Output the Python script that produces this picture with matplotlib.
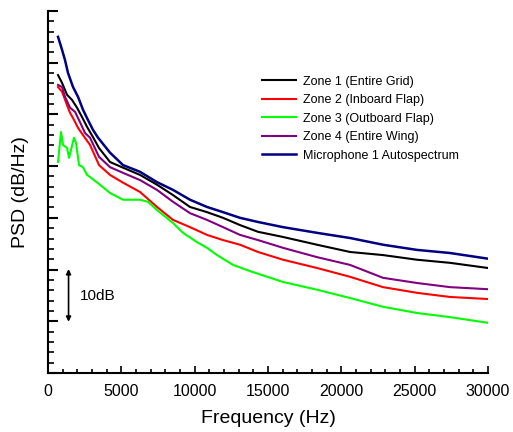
import matplotlib
matplotlib.use("Agg")
import matplotlib.pyplot as plt
from matplotlib.ticker import MultipleLocator, NullFormatter

plt.rcParams['font.family'] = ['Liberation Sans', 'DejaVu Sans']

# values (Hz, relative dB)
mic_f = [682, 955, 1159, 1364, 1705, 2045, 2386, 2727, 3068, 3409, 4227, 5114, 6273,
         7432, 8523, 9682, 10841, 11932, 13091, 14318, 16023, 18341, 20591, 22841,
         25159, 27409, 30000]
mic_db = [65.0, 62.5, 60.5, 58.0, 55.3, 53.4, 50.9, 48.9, 47.0, 45.5, 42.6, 40.2, 38.9,
          36.9, 35.4, 33.5, 32.1, 31.1, 30.0, 29.2, 28.2, 27.1, 26.1, 24.8,
          23.8, 23.2, 22.1]

z1_f = [682, 955, 1295, 1636, 1977, 2318, 2659, 3068, 3477, 4227, 5114, 6273, 7432,
        8523, 9682, 10841, 11932, 13091, 14318, 16023, 18341, 20591, 22841, 25159,
        27409, 30000]
z1_db = [57.6, 56.1, 53.8, 52.8, 51.3, 49.5, 47.6, 45.6, 43.5, 40.8, 39.7, 38.3, 36.4,
         34.4, 32.1, 31.1, 30.0, 28.6, 27.3, 26.3, 24.8, 23.4, 22.8, 21.9,
         21.3, 20.3]

z2_f = [682, 955, 1295, 1500, 1705, 2045, 2386, 2864, 3477, 4227, 5114, 6273, 7432,
        8523, 9682, 10841, 11932, 13091, 14318, 16023, 18341, 20591, 22841, 25159,
        27409, 30000]
z2_db = [55.3, 54.4, 51.8, 50.3, 49.3, 47.4, 46.0, 44.1, 40.2, 38.3, 36.8, 35.0, 32.1,
         29.6, 28.2, 26.7, 25.7, 24.8, 23.4, 21.9, 20.3, 18.6, 16.6, 15.5,
         14.7, 14.3]

z3_f = [682, 886, 1023, 1295, 1432, 1773, 1909, 2114, 2386, 2659, 2864, 3545, 4227,
        5114, 6273, 6818, 7432, 8523, 9205, 10159, 10841, 11523, 12614, 13773, 16023,
        18341, 20591, 22841, 25159, 27409, 30000]
z3_db = [40.8, 46.6, 44.1, 43.5, 41.6, 45.5, 44.5, 40.2, 39.8, 38.3, 37.9, 36.4, 34.8,
         33.5, 33.5, 33.1, 31.5, 29.0, 27.1, 25.3, 24.2, 22.8, 20.9, 19.7, 17.6,
         16.1, 14.5, 12.8, 11.6, 10.8, 9.7]

z4_f = [682, 955, 1159, 1500, 1841, 2182, 2523, 2864, 3477, 4227, 5114, 6273, 7432,
        8523, 9682, 10841, 11932, 13091, 14318, 16023, 18341, 20591, 22841, 25159,
        27409, 30000]
z4_db = [55.7, 55.3, 53.4, 51.3, 50.5, 48.5, 46.4, 45.5, 41.8, 39.8, 38.7, 37.3, 35.4,
         33.1, 30.9, 29.6, 28.2, 26.7, 25.7, 24.2, 22.4, 20.9, 18.4, 17.4,
         16.6, 16.2]

fig = plt.figure(figsize=(5.13, 4.32), dpi=100)
ax = fig.add_axes([0.0936, 0.1366, 0.8577, 0.838])

ax.plot(z1_f, z1_db, color='black', lw=1.5, label='Zone 1 (Entire Grid)')
ax.plot(z2_f, z2_db, color='#ff0000', lw=1.5, label='Zone 2 (Inboard Flap)')
ax.plot(z3_f, z3_db, color='#00ff00', lw=1.5, label='Zone 3 (Outboard Flap)')
ax.plot(z4_f, z4_db, color='#800080', lw=1.5, label='Zone 4 (Entire Wing)')
ax.plot(mic_f, mic_db, color='#000080', lw=1.8, label='Microphone 1 Autospectrum')

ax.set_xlim(0, 30000)
ax.set_ylim(0, 70)
ax.xaxis.set_major_locator(MultipleLocator(5000))
ax.xaxis.set_minor_locator(MultipleLocator(1000))
ax.yaxis.set_major_locator(MultipleLocator(10))
ax.yaxis.set_minor_locator(MultipleLocator(2))
ax.yaxis.set_major_formatter(NullFormatter())

for s in ['top', 'right']:
    ax.spines[s].set_visible(False)
ax.spines['left'].set_linewidth(1.5)
ax.spines['bottom'].set_linewidth(1.5)
ax.tick_params(axis='x', which='major', direction='in', length=5, width=1.2, labelsize=11.5, pad=8)
ax.tick_params(axis='x', which='minor', direction='in', length=3, width=1.2)
ax.tick_params(axis='y', which='major', direction='in', length=7, width=1.5)
ax.tick_params(axis='y', which='minor', direction='in', length=4, width=1.2)

ax.set_xlabel('Frequency (Hz)', fontsize=14, labelpad=8)
ax.set_ylabel('PSD (dB/Hz)', fontsize=14, labelpad=10)

# 10 dB scale bar
ax.annotate('', xy=(1400, 9.9), xytext=(1400, 20.1),
            arrowprops=dict(arrowstyle='<|-|>', color='black', lw=1.2,
                            mutation_scale=7, shrinkA=0, shrinkB=0))
ax.text(2150, 14.8, '10dB', fontsize=11, ha='left', va='center')

ax.legend(loc='upper left', bbox_to_anchor=(0.475, 0.835), frameon=False,
          fontsize=9, handlelength=2.7, handletextpad=0.55, labelspacing=0.52,
          borderaxespad=0)

fig.savefig('out.png', dpi=100)
